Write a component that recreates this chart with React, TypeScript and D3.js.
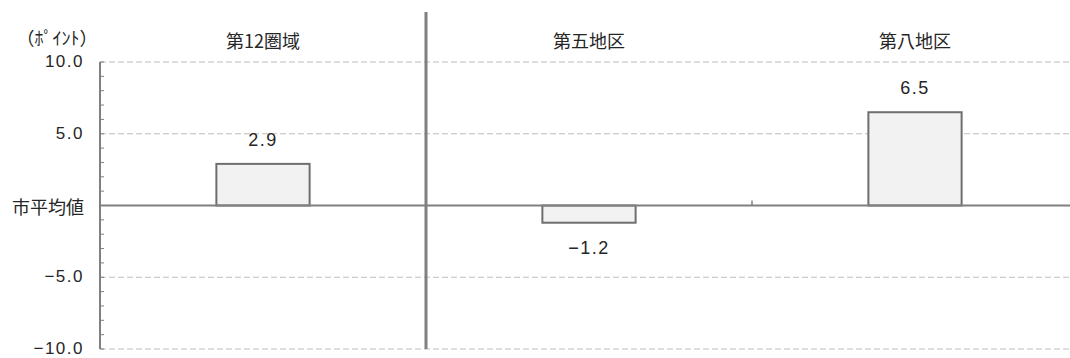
import React from "react";
import * as d3 from "d3";

const categories = ["第12圏域", "第五地区", "第八地区"];
const values = [2.9, -1.2, 6.5];
const yTicks = [10, 5, -5, -10];
const yMinorTicks = d3.range(-10, 11, 1);
const unitLabel = "（ﾎﾟｲﾝﾄ）";
const zeroLabel = "市平均値";

const W = 1070;
const H = 358;
const left = 100;
const right = 1078;
const top = 62;
const bottom = 349;
const font = "'Noto Sans CJK JP', 'Noto Sans', sans-serif";
const numFont = "'Liberation Sans', Arial, sans-serif";

export default function App() {
  const x = d3.scaleBand<string>().domain(categories).range([left, right]).padding(0);
  const y = d3.scaleLinear().domain([-10, 10]).range([bottom, top]);
  const bw = x.bandwidth() * 0.286;
  const gray = "#808080";
  const textColor = "#262626";
  const boundaries = categories.slice(1).map((c) => x(c)!);

  return (
    <svg width={W} height={H} style={{ position: "absolute", left: 0, top: 0 }} fontFamily={font}>
      <rect x={0} y={0} width={W} height={H} fill="#fff" />
      {/* gridlines */}
      {yTicks.map((t) => (
        <line key={t} x1={left} x2={W} y1={y(t)} y2={y(t)} stroke="#bdbdbd" strokeWidth={1} strokeDasharray="6,3" />
      ))}
      {/* bars */}
      {values.map((v, i) => {
        const cx = x(categories[i])! + x.bandwidth() / 2;
        const y0 = y(0);
        const y1 = y(v);
        return (
          <g key={i}>
            <rect x={cx - bw / 2} y={Math.min(y0, y1)} width={bw} height={Math.abs(y1 - y0)} fill="#f2f2f2" stroke="#6e6e6e" strokeWidth={2} />
            <text x={cx} y={v >= 0 ? y1 - 24 : y1 + 25} textAnchor="middle" dominantBaseline="central" fontFamily={numFont} fontSize={18} fill={textColor} letterSpacing={1.5}>
              {d3.format(".1f")(v)}
            </text>
          </g>
        );
      })}
      {/* zero line */}
      <line x1={left} x2={W} y1={y(0)} y2={y(0)} stroke={gray} strokeWidth={2} />
      {boundaries.map((b, i) => (
        <line key={i} x1={b} x2={b} y1={y(0)} y2={y(0) - 5} stroke={gray} strokeWidth={1.5} />
      ))}
      {/* separator */}
      <line x1={boundaries[0]} x2={boundaries[0]} y1={12} y2={bottom} stroke={gray} strokeWidth={3} />
      {/* y axis */}
      <line x1={left} x2={left} y1={top} y2={bottom} stroke={gray} strokeWidth={2} />
      {yMinorTicks.map((t) => (
        <line key={t} x1={left} x2={left + 4} y1={y(t)} y2={y(t)} stroke={gray} strokeWidth={1} />
      ))}
      {yTicks.map((t) => (
        <text key={t} x={84} y={y(t) - 0.5} textAnchor="end" dominantBaseline="central" fontFamily={numFont} fontSize={17} fill={textColor} letterSpacing={1.5}>
          {d3.format(".1f")(t)}
        </text>
      ))}
      <text x={84} y={y(0)} textAnchor="end" dominantBaseline="central" fontSize={18} fill={textColor}>
        {zeroLabel}
      </text>
      <text x={57} y={37} textAnchor="middle" dominantBaseline="central" fontSize={18} fill={textColor}>
        {unitLabel}
      </text>
      {categories.map((c) => (
        <text key={c} x={x(c)! + x.bandwidth() / 2} y={40} textAnchor="middle" dominantBaseline="central" fontSize={18} fill={textColor}>
          {c}
        </text>
      ))}
    </svg>
  );
}
